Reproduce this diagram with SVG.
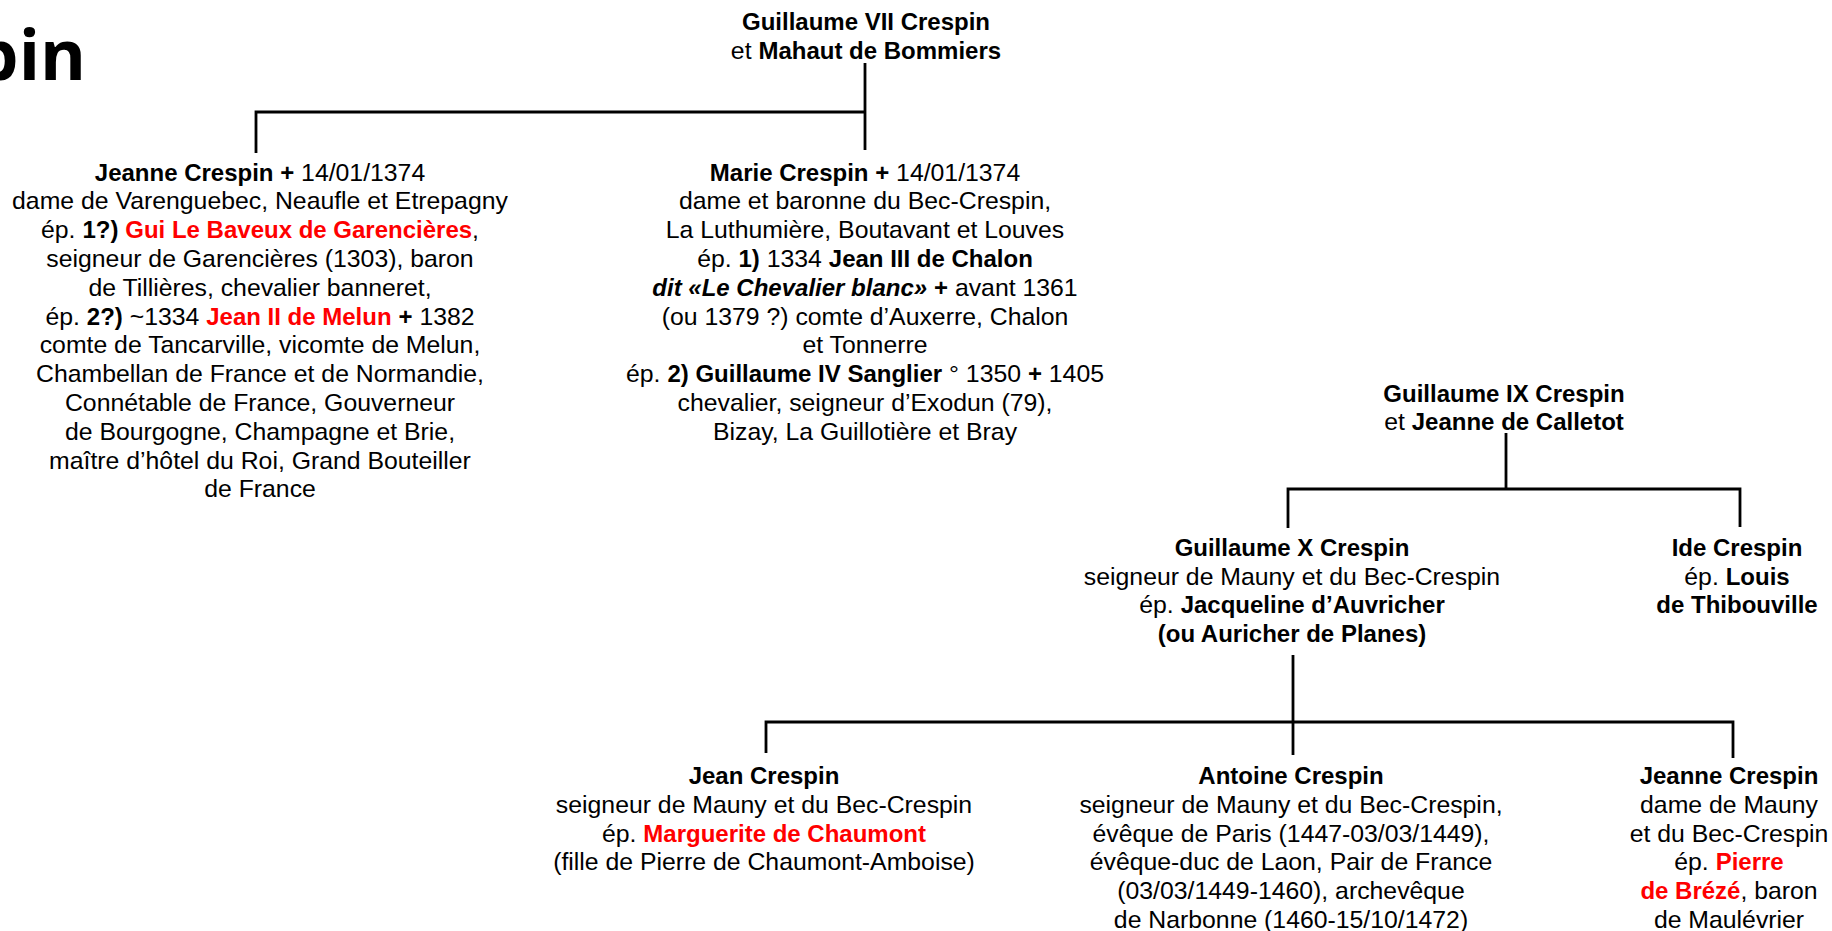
<svg xmlns="http://www.w3.org/2000/svg" width="1832" height="931" viewBox="0 0 1832 931">
<style>
text{font-family:"Liberation Sans",Arial,sans-serif;font-size:24.8px;fill:#000;text-anchor:middle}
.b{font-weight:bold;font-size:24px}
.r{font-weight:bold;font-size:24px;fill:#ff0000}
.bi{font-weight:bold;font-style:italic;font-size:24px}
.title{font-family:"Open Sans","Liberation Sans",sans-serif;font-weight:bold;font-size:70px;text-anchor:end}
.ln{fill:none;stroke:#000;stroke-width:2.8;stroke-linejoin:miter}
</style>
<rect width="1832" height="931" fill="#fff"/>
<text class="title" x="86" y="80">pin</text>
<g id="connectors">
<path class="ln" d="M865,63 V150"/>
<path class="ln" d="M256,153 V112 H865"/>
<path class="ln" d="M1506,433 V489"/>
<path class="ln" d="M1288,528 V489 H1740 V527"/>
<path class="ln" d="M1293,655 V755"/>
<path class="ln" d="M766,753 V722 H1733 V758"/>
</g>
<g id="guillaume7">
<text x="866" y="30"><tspan class="b">Guillaume VII Crespin</tspan></text>
<text x="866" y="58.8">et <tspan class="b">Mahaut de Bommiers</tspan></text>
</g>
<g id="jeanne1">
<text x="260" y="180.5"><tspan class="b">Jeanne Crespin +</tspan> 14/01/1374</text>
<text x="260" y="209.3">dame de Varenguebec, Neaufle et Etrepagny</text>
<text x="260" y="238.1">ép. <tspan class="b">1?)</tspan> <tspan class="r">Gui Le Baveux de Garencières</tspan>,</text>
<text x="260" y="266.9">seigneur de Garencières (1303), baron</text>
<text x="260" y="295.7">de Tillières, chevalier banneret,</text>
<text x="260" y="324.5">ép. <tspan class="b">2?)</tspan> ~1334 <tspan class="r">Jean II de Melun</tspan> <tspan class="b">+</tspan> 1382</text>
<text x="260" y="353.3">comte de Tancarville, vicomte de Melun,</text>
<text x="260" y="382.1">Chambellan de France et de Normandie,</text>
<text x="260" y="410.9">Connétable de France, Gouverneur</text>
<text x="260" y="439.7">de Bourgogne, Champagne et Brie,</text>
<text x="260" y="468.5">maître d’hôtel du Roi, Grand Bouteiller</text>
<text x="260" y="497.3">de France</text>
</g>
<g id="marie">
<text x="865" y="180.5"><tspan class="b">Marie Crespin +</tspan> 14/01/1374</text>
<text x="865" y="209.3">dame et baronne du Bec-Crespin,</text>
<text x="865" y="238.1">La Luthumière, Boutavant et Louves</text>
<text x="865" y="266.9">ép. <tspan class="b">1)</tspan> 1334 <tspan class="b">Jean III de Chalon</tspan></text>
<text x="865" y="295.7"><tspan class="bi">dit «Le Chevalier blanc»</tspan> <tspan class="b">+</tspan> avant 1361</text>
<text x="865" y="324.5">(ou 1379 ?) comte d’Auxerre, Chalon</text>
<text x="865" y="353.3">et Tonnerre</text>
<text x="865" y="382.1">ép. <tspan class="b">2) Guillaume IV Sanglier</tspan> ° 1350 <tspan class="b">+</tspan> 1405</text>
<text x="865" y="410.9">chevalier, seigneur d’Exodun (79),</text>
<text x="865" y="439.7">Bizay, La Guillotière et Bray</text>
</g>
<g id="guillaume9">
<text x="1504" y="402"><tspan class="b">Guillaume IX Crespin</tspan></text>
<text x="1504" y="430">et <tspan class="b">Jeanne de Calletot</tspan></text>
</g>
<g id="guillaume10">
<text x="1292" y="556"><tspan class="b">Guillaume X Crespin</tspan></text>
<text x="1292" y="584.5">seigneur de Mauny et du Bec-Crespin</text>
<text x="1292" y="613">ép. <tspan class="b">Jacqueline d’Auvricher</tspan></text>
<text x="1292" y="641.5"><tspan class="b">(ou Auricher de Planes)</tspan></text>
</g>
<g id="ide">
<text x="1737" y="556"><tspan class="b">Ide Crespin</tspan></text>
<text x="1737" y="584.5">ép. <tspan class="b">Louis</tspan></text>
<text x="1737" y="613"><tspan class="b">de Thibouville</tspan></text>
</g>
<g id="jean">
<text x="764" y="784"><tspan class="b">Jean Crespin</tspan></text>
<text x="764" y="812.8">seigneur de Mauny et du Bec-Crespin</text>
<text x="764" y="841.6">ép. <tspan class="r">Marguerite de Chaumont</tspan></text>
<text x="764" y="870.4">(fille de Pierre de Chaumont-Amboise)</text>
</g>
<g id="antoine">
<text x="1291" y="784"><tspan class="b">Antoine Crespin</tspan></text>
<text x="1291" y="812.8">seigneur de Mauny et du Bec-Crespin,</text>
<text x="1291" y="841.6">évêque de Paris (1447-03/03/1449),</text>
<text x="1291" y="870.4">évêque-duc de Laon, Pair de France</text>
<text x="1291" y="899.2">(03/03/1449-1460), archevêque</text>
<text x="1291" y="928">de Narbonne (1460-15/10/1472)</text>
</g>
<g id="jeanne2">
<text x="1729" y="784"><tspan class="b">Jeanne Crespin</tspan></text>
<text x="1729" y="812.8">dame de Mauny</text>
<text x="1729" y="841.6">et du Bec-Crespin</text>
<text x="1729" y="870.4">ép. <tspan class="r">Pierre</tspan></text>
<text x="1729" y="899.2"><tspan class="r">de Brézé</tspan>, baron</text>
<text x="1729" y="928">de Maulévrier</text>
</g>
</svg>
